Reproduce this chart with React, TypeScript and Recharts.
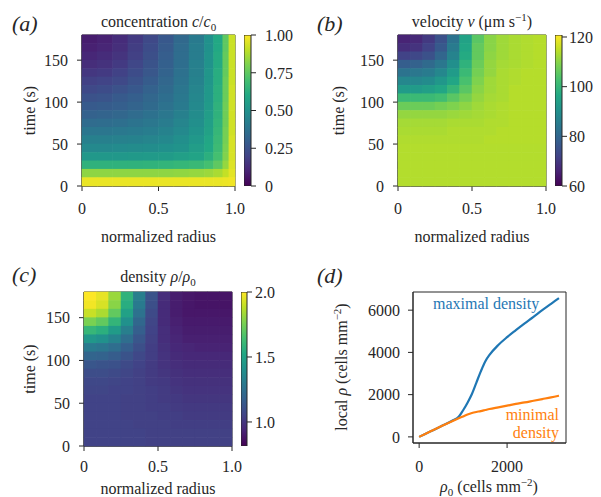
import React from "react";
import {
  ScatterChart,
  Scatter,
  BarChart,
  Bar,
  LineChart,
  Line,
  XAxis,
  YAxis,
  ReferenceArea,
} from "recharts";

const INK = "#262626";
const FONT = '"Liberation Serif", "DejaVu Serif", serif';

// heat map grids: radius bin centres / widths and time bin centres (top row first)
const radiusBins = [0.042, 0.125, 0.208, 0.292, 0.375, 0.458, 0.542, 0.625, 0.708, 0.792, 0.875, 0.958];
const radiusWidths = [0.0833, 0.0833, 0.0833, 0.0833, 0.0833, 0.0833, 0.0833, 0.0833, 0.0833, 0.0833, 0.0833, 0.0833];
const edgeRadiusBins = [0.05, 0.15, 0.25, 0.35, 0.45, 0.55, 0.65, 0.75, 0.83, 0.89, 0.94, 0.98];
const edgeRadiusWidths = [0.1, 0.1, 0.1, 0.1, 0.1, 0.1, 0.1, 0.1, 0.06, 0.06, 0.04, 0.04];
const timeBins = [175, 165, 155, 145, 135, 125, 115, 105, 95, 85, 75, 65, 55, 45, 35, 25, 15, 5];

const radiusTicks = [0, 0.5, 1];
const timeTicks = [0, 50, 100, 150];

// (a) concentration c/c0 (columns = edgeRadiusBins)
const concentrationRows = [
  [0.08, 0.095, 0.125, 0.17, 0.22, 0.275, 0.34, 0.41, 0.5, 0.6, 0.75, 0.92],
  [0.09, 0.105, 0.135, 0.18, 0.23, 0.285, 0.35, 0.42, 0.5, 0.6, 0.75, 0.92],
  [0.11, 0.125, 0.15, 0.19, 0.24, 0.295, 0.355, 0.42, 0.51, 0.61, 0.76, 0.92],
  [0.13, 0.145, 0.17, 0.21, 0.255, 0.305, 0.36, 0.43, 0.51, 0.61, 0.76, 0.92],
  [0.16, 0.17, 0.195, 0.23, 0.27, 0.315, 0.37, 0.43, 0.52, 0.62, 0.76, 0.92],
  [0.19, 0.2, 0.22, 0.25, 0.29, 0.33, 0.38, 0.44, 0.52, 0.62, 0.77, 0.92],
  [0.22, 0.23, 0.25, 0.275, 0.31, 0.345, 0.39, 0.45, 0.53, 0.63, 0.77, 0.93],
  [0.25, 0.26, 0.28, 0.3, 0.33, 0.36, 0.4, 0.46, 0.53, 0.63, 0.77, 0.93],
  [0.28, 0.29, 0.3, 0.32, 0.345, 0.375, 0.41, 0.47, 0.54, 0.64, 0.78, 0.93],
  [0.31, 0.32, 0.33, 0.35, 0.37, 0.395, 0.43, 0.48, 0.55, 0.64, 0.78, 0.93],
  [0.35, 0.355, 0.365, 0.38, 0.395, 0.415, 0.45, 0.49, 0.56, 0.65, 0.78, 0.93],
  [0.39, 0.39, 0.4, 0.41, 0.42, 0.44, 0.47, 0.51, 0.57, 0.66, 0.79, 0.93],
  [0.43, 0.43, 0.435, 0.44, 0.45, 0.465, 0.49, 0.53, 0.59, 0.67, 0.79, 0.94],
  [0.47, 0.47, 0.475, 0.48, 0.485, 0.495, 0.51, 0.55, 0.6, 0.68, 0.8, 0.94],
  [0.53, 0.53, 0.53, 0.535, 0.54, 0.545, 0.56, 0.58, 0.63, 0.7, 0.81, 0.94],
  [0.64, 0.64, 0.64, 0.64, 0.645, 0.65, 0.66, 0.67, 0.7, 0.75, 0.84, 0.95],
  [0.83, 0.83, 0.83, 0.83, 0.83, 0.83, 0.835, 0.84, 0.85, 0.87, 0.91, 0.96],
  [0.97, 0.97, 0.97, 0.97, 0.97, 0.97, 0.97, 0.97, 0.97, 0.97, 0.975, 0.98],
];

// (b) velocity v in um/s (columns = radiusBins)
const velocityRows = [
  [66, 67, 70, 75, 83, 95, 105, 110, 112, 113, 113.5, 114],
  [68, 69, 72, 77, 85, 96, 106, 110, 112, 113, 113.5, 114],
  [72, 73, 75, 80, 87, 97, 106, 110.5, 112, 113, 113.5, 114],
  [78, 79, 81, 84, 90, 99, 107, 111, 112.5, 113, 113.5, 114],
  [83, 84, 85, 88, 93, 101, 108, 111, 113, 113.5, 114, 114],
  [88, 88, 89, 92, 96, 103, 109, 112, 113, 113.5, 114, 114],
  [93, 93, 94, 96, 100, 105, 110, 112, 113, 114, 114, 114],
  [101, 101, 101, 102, 105, 108, 111, 112.5, 113, 114, 114, 114],
  [107, 107, 107, 108, 109, 110.5, 112, 113, 113.5, 114, 114, 114],
  [111, 111, 111, 111, 111.5, 112, 112.5, 113, 113.5, 114, 114, 114],
  [112.5, 112.5, 112.5, 112.5, 113, 113, 113, 113.5, 113.5, 114, 114, 114],
  [113, 113, 113, 113, 113.5, 113.5, 113.5, 113.5, 114, 114, 114, 114],
  [113.5, 113.5, 113.5, 113.5, 113.5, 113.5, 113.5, 114, 114, 114, 114, 114],
  [113.8, 113.8, 113.8, 113.8, 113.8, 113.8, 113.8, 113.8, 113.8, 113.8, 113.8, 113.8],
  [113.8, 113.8, 113.8, 113.8, 113.8, 113.8, 113.8, 113.8, 113.8, 113.8, 113.8, 113.8],
  [113.8, 113.8, 113.8, 113.8, 113.8, 113.8, 113.8, 113.8, 113.8, 113.8, 113.8, 113.8],
  [113.8, 113.8, 113.8, 113.8, 113.8, 113.8, 113.8, 113.8, 113.8, 113.8, 113.8, 113.8],
  [113.8, 113.8, 113.8, 113.8, 113.8, 113.8, 113.8, 113.8, 113.8, 113.8, 113.8, 113.8],
];

// (c) density rho/rho0 (columns = radiusBins)
const densityRows = [
  [2.0, 1.96, 1.82, 1.58, 1.32, 1.12, 0.97, 0.91, 0.89, 0.88, 0.88, 0.88],
  [1.98, 1.93, 1.79, 1.55, 1.3, 1.1, 0.96, 0.91, 0.89, 0.88, 0.88, 0.88],
  [1.9, 1.85, 1.71, 1.49, 1.26, 1.08, 0.96, 0.91, 0.89, 0.89, 0.89, 0.89],
  [1.76, 1.71, 1.59, 1.41, 1.21, 1.06, 0.96, 0.92, 0.9, 0.9, 0.9, 0.9],
  [1.6, 1.56, 1.46, 1.32, 1.17, 1.05, 0.97, 0.93, 0.91, 0.91, 0.91, 0.91],
  [1.44, 1.41, 1.34, 1.24, 1.13, 1.04, 0.97, 0.94, 0.92, 0.92, 0.92, 0.92],
  [1.3, 1.28, 1.24, 1.17, 1.1, 1.03, 0.98, 0.95, 0.94, 0.93, 0.93, 0.93],
  [1.2, 1.19, 1.16, 1.12, 1.07, 1.03, 0.99, 0.96, 0.95, 0.95, 0.95, 0.95],
  [1.13, 1.12, 1.11, 1.08, 1.05, 1.02, 0.99, 0.97, 0.96, 0.96, 0.96, 0.96],
  [1.09, 1.09, 1.08, 1.06, 1.04, 1.02, 1.0, 0.98, 0.97, 0.97, 0.97, 0.97],
  [1.07, 1.07, 1.06, 1.05, 1.04, 1.02, 1.01, 0.99, 0.98, 0.98, 0.98, 0.98],
  [1.06, 1.06, 1.05, 1.05, 1.04, 1.03, 1.02, 1.0, 0.99, 0.99, 0.99, 0.99],
  [1.05, 1.05, 1.05, 1.04, 1.04, 1.03, 1.02, 1.01, 1.0, 1.0, 1.0, 1.0],
  [1.05, 1.05, 1.05, 1.04, 1.04, 1.03, 1.03, 1.02, 1.01, 1.01, 1.01, 1.01],
  [1.05, 1.05, 1.05, 1.04, 1.04, 1.04, 1.03, 1.03, 1.02, 1.02, 1.02, 1.02],
  [1.05, 1.05, 1.05, 1.05, 1.04, 1.04, 1.04, 1.03, 1.03, 1.03, 1.03, 1.03],
  [1.05, 1.05, 1.05, 1.05, 1.05, 1.04, 1.04, 1.04, 1.04, 1.04, 1.04, 1.04],
  [1.05, 1.05, 1.05, 1.05, 1.05, 1.04, 1.04, 1.04, 1.04, 1.04, 1.04, 1.04],
];

// (d) local density vs initial density
const rho0 = [0, 250, 500, 750, 900, 1000, 1100, 1200, 1300, 1400, 1500, 1600, 1800, 2000, 2200, 2400, 2600, 2800, 3000, 3180];
const maximalDensity = [0, 250, 500, 760, 950, 1260, 1620, 2030, 2560, 3090, 3560, 3880, 4350, 4720, 5050, 5370, 5680, 6000, 6300, 6570];
const minimalDensity = [0, 250, 500, 740, 880, 970, 1060, 1130, 1180, 1220, 1270, 1320, 1400, 1480, 1560, 1630, 1710, 1790, 1870, 1950];

const VIRIDIS = [
  "#440154", "#482475", "#414487", "#355f8d", "#2a788e", "#21918c",
  "#22a884", "#44bf70", "#7ad151", "#bddf26", "#fde725",
];

function viridis(f: number) {
  const x = Math.min(1, Math.max(0, f)) * (VIRIDIS.length - 1);
  const i = Math.min(VIRIDIS.length - 2, Math.floor(x));
  const k = x - i;
  const a = VIRIDIS[i];
  const b = VIRIDIS[i + 1];
  const ch = (s: string, p: number) => parseInt(s.slice(p, p + 2), 16);
  const mix = (p: number) => Math.round(ch(a, p) + (ch(b, p) - ch(a, p)) * k);
  return `rgb(${mix(1)},${mix(3)},${mix(5)})`;
}

function buildCells(rows: number[][], centers: number[], widths: number[], vmin: number, vmax: number) {
  return rows.flatMap((row, i) =>
    row.map((v, j) => ({
      r: centers[j],
      w: widths[j],
      t: timeBins[i],
      v,
      color: viridis((v - vmin) / (vmax - vmin)),
    }))
  );
}

const lineStyle = { stroke: INK };
const textProps = { fill: INK, fontSize: 16, fontFamily: FONT };

// tick renderers with explicit serif font
const bottomTick = (fmt: (v: number) => string) => (p: any) => (
  <text x={p.x} y={p.y} dy="0.71em" textAnchor="middle" {...textProps}>
    {fmt(p.payload.value)}
  </text>
);
const sideTick = (fmt: (v: number) => string, anchor: "start" | "end") => (p: any) => (
  <text x={p.x} y={p.y} dy="0.36em" textAnchor={anchor} {...textProps}>
    {fmt(p.payload.value)}
  </text>
);

type Margin = { top: number; right: number; bottom: number; left: number };

function Heatmap({
  width,
  height,
  margin,
  xAxisHeight,
  rows,
  centers,
  widths,
  vmin,
  vmax,
  xTickMargin,
  xLabelGap,
  yLabelX,
  children,
}: {
  width: number;
  height: number;
  margin: Margin;
  xAxisHeight: number;
  rows: number[][];
  centers: number[];
  widths: number[];
  vmin: number;
  vmax: number;
  xTickMargin: number;
  xLabelGap: number;
  yLabelX: number;
  children?: React.ReactNode;
}) {
  const plotW = width - margin.left - margin.right - 60;
  const plotH = height - margin.top - margin.bottom - xAxisHeight;
  const chh = plotH / timeBins.length + 0.6;
  const cells = buildCells(rows, centers, widths, vmin, vmax);
  const cx = margin.left + 60 + plotW / 2;
  const cy = margin.top + plotH / 2;

  return (
    <ScatterChart width={width} height={height} margin={margin}>
      <XAxis
        type="number"
        dataKey="r"
        domain={[0, 1]}
        ticks={radiusTicks}
        height={xAxisHeight}
        tickSize={5}
        tickMargin={xTickMargin}
        axisLine={lineStyle}
        tickLine={lineStyle}
        tick={bottomTick((v) => (v === 0 ? "0" : v.toFixed(1)))}
      />
      <YAxis
        type="number"
        dataKey="t"
        domain={[0, 180]}
        ticks={timeTicks}
        width={60}
        tickSize={5}
        tickMargin={9}
        axisLine={lineStyle}
        tickLine={lineStyle}
        tick={sideTick((v) => String(v), "end")}
      />
      <Scatter
        data={cells}
        isAnimationActive={false}
        shape={(p: any) => {
          const cw = p.payload.w * plotW + 0.6;
          return <rect x={p.cx - cw / 2} y={p.cy - chh / 2} width={cw} height={chh} fill={p.payload.color} />;
        }}
      />
      <ReferenceArea x1={0} x2={1} y1={0} y2={180} fill="none" stroke={INK} strokeWidth={1} ifOverflow="visible" />
      <text x={cx} y={margin.top + plotH + xLabelGap} textAnchor="middle" {...textProps}>
        normalized radius
      </text>
      <text x={0} y={0} textAnchor="middle" {...textProps} transform={`translate(${yLabelX} ${cy}) rotate(-90)`}>
        time (s)
      </text>
      {children}
    </ScatterChart>
  );
}

function Colorbar({
  id,
  width,
  height,
  top,
  bottom,
  axisWidth,
  domain,
  ticks,
  tickMargin,
  format,
}: {
  id: string;
  width: number;
  height: number;
  top: number;
  bottom: number;
  axisWidth: number;
  domain: [number, number];
  ticks: number[];
  tickMargin: number;
  format: (v: number) => string;
}) {
  return (
    <BarChart
      width={width}
      height={height}
      margin={{ top, right: 0, bottom, left: 0 }}
      data={[{ name: "scale", span: domain }]}
      barCategoryGap={0}
      barGap={0}
    >
      <defs>
        <linearGradient id={id} x1="0" y1="1" x2="0" y2="0">
          {VIRIDIS.map((c, i) => (
            <stop key={c} offset={`${(i / (VIRIDIS.length - 1)) * 100}%`} stopColor={c} />
          ))}
        </linearGradient>
      </defs>
      <XAxis dataKey="name" hide />
      <YAxis
        orientation="right"
        type="number"
        domain={domain}
        ticks={ticks}
        width={axisWidth}
        tickSize={5}
        tickMargin={tickMargin}
        axisLine={false}
        tickLine={lineStyle}
        tick={sideTick(format, "start")}
        allowDataOverflow
      />
      <Bar dataKey="span" fill={`url(#${id})`} stroke={INK} strokeWidth={1} isAnimationActive={false} />
    </BarChart>
  );
}

const panelLabel = { fontSize: 22, fill: INK, fontStyle: "italic" as const, fontFamily: FONT };

function DensityLines() {
  const data = rho0.map((x, i) => ({
    rho0: x,
    maximal: maximalDensity[i],
    minimal: minimalDensity[i],
  }));
  return (
    <LineChart width={301} height={247} margin={{ top: 42, right: 35, bottom: 4, left: 38 }} data={data}>
      <XAxis
        type="number"
        dataKey="rho0"
        domain={[-140, 3340]}
        ticks={[0, 2000]}
        height={50}
        tickSize={5}
        tickMargin={13}
        axisLine={lineStyle}
        tickLine={lineStyle}
        tick={bottomTick((v) => String(v))}
        allowDataOverflow
      />
      <YAxis
        type="number"
        domain={[-290, 6860]}
        ticks={[0, 2000, 4000, 6000]}
        width={75}
        tickSize={5}
        tickMargin={8}
        axisLine={lineStyle}
        tickLine={lineStyle}
        tick={sideTick((v) => String(v), "end")}
        allowDataOverflow
      />
      <ReferenceArea x1={-140} x2={3340} y1={-290} y2={6860} fill="none" stroke={INK} strokeWidth={1} ifOverflow="visible" />
      <Line type="monotone" dataKey="maximal" stroke="#1f77b4" strokeWidth={2.2} dot={false} isAnimationActive={false} />
      <Line type="monotone" dataKey="minimal" stroke="#ff7f0e" strokeWidth={2.2} dot={false} isAnimationActive={false} />
      <text x={17} y={33} {...panelLabel}>
        (d)
      </text>
      <text x={133} y={59} {...textProps} fill="#1f77b4">
        maximal density
      </text>
      <text x={259} y={170} {...textProps} fill="#ff7f0e" textAnchor="end">
        minimal
      </text>
      <text x={259} y={188} {...textProps} fill="#ff7f0e" textAnchor="end">
        density
      </text>
      <text x={189} y={242} textAnchor="middle" {...textProps}>
        <tspan fontStyle="italic">ρ</tspan>
        <tspan dy={4} fontSize={11}>0</tspan>
        <tspan dy={-4}> (cells mm</tspan>
        <tspan dy={-6} fontSize={11}>−2</tspan>
        <tspan dy={6}>)</tspan>
      </text>
      <text x={0} y={0} textAnchor="middle" {...textProps} transform="translate(47 117) rotate(-90)">
        local <tspan fontStyle="italic">ρ</tspan> (cells mm
        <tspan dy={-6} fontSize={11}>−2</tspan>
        <tspan dy={6}>)</tspan>
      </text>
    </LineChart>
  );
}

export default function App() {
  return (
    <div
      style={{
        position: "absolute",
        left: 0,
        top: 0,
        width: 601,
        height: 497,
        background: "#fff",
        fontFamily: FONT,
      }}
    >
      {/* (a) concentration */}
      <div style={{ position: "absolute", left: 0, top: 0 }}>
        <Heatmap
          width={300}
          height={250}
          margin={{ top: 35, right: 65, bottom: 4, left: 22 }}
          xAxisHeight={60}
          rows={concentrationRows}
          centers={edgeRadiusBins}
          widths={edgeRadiusWidths}
          vmin={0}
          vmax={1}
          xTickMargin={12}
          xLabelGap={56}
          yLabelX={35}
        >
          <text x={12} y={31} {...panelLabel}>
            (a)
          </text>
          <text x={158.5} y={27} textAnchor="middle" {...textProps}>
            concentration <tspan fontStyle="italic">c</tspan>/<tspan fontStyle="italic">c</tspan>
            <tspan dy={4} fontSize={11}>0</tspan>
          </text>
        </Heatmap>
      </div>
      <div style={{ position: "absolute", left: 244, top: 0 }}>
        <Colorbar
          id="cbarA"
          width={56}
          height={250}
          top={35}
          bottom={64}
          axisWidth={49}
          domain={[0, 1]}
          ticks={[0, 0.25, 0.5, 0.75, 1]}
          tickMargin={9}
          format={(v) => (v === 0 ? "0" : v.toFixed(2))}
        />
      </div>

      {/* (b) velocity */}
      <div style={{ position: "absolute", left: 300, top: 0 }}>
        <Heatmap
          width={301}
          height={250}
          margin={{ top: 35, right: 55, bottom: 4, left: 38 }}
          xAxisHeight={60}
          rows={velocityRows}
          centers={radiusBins}
          widths={radiusWidths}
          vmin={60}
          vmax={120.8}
          xTickMargin={12}
          xLabelGap={56}
          yLabelX={44}
        >
          <text x={17} y={31} {...panelLabel}>
            (b)
          </text>
          <text x={172} y={27} textAnchor="middle" {...textProps}>
            velocity <tspan fontStyle="italic">v</tspan> (μm s
            <tspan dy={-6} fontSize={11}>−1</tspan>
            <tspan dy={6}>)</tspan>
          </text>
        </Heatmap>
      </div>
      <div style={{ position: "absolute", left: 555, top: 0 }}>
        <Colorbar
          id="cbarB"
          width={46}
          height={250}
          top={35}
          bottom={64}
          axisWidth={39}
          domain={[60, 120.8]}
          ticks={[60, 80, 100, 120]}
          tickMargin={2}
          format={(v) => String(v)}
        />
      </div>

      {/* (c) density */}
      <div style={{ position: "absolute", left: 0, top: 250 }}>
        <Heatmap
          width={300}
          height={247}
          margin={{ top: 42, right: 68, bottom: 1, left: 24 }}
          xAxisHeight={50}
          rows={densityRows}
          centers={radiusBins}
          widths={radiusWidths}
          vmin={0.815}
          vmax={2.0}
          xTickMargin={10}
          xLabelGap={48}
          yLabelX={35}
        >
          <text x={12} y={32} {...panelLabel}>
            (c)
          </text>
          <text x={158} y={32} textAnchor="middle" {...textProps}>
            density <tspan fontStyle="italic">ρ</tspan>/<tspan fontStyle="italic">ρ</tspan>
            <tspan dy={4} fontSize={11}>0</tspan>
          </text>
        </Heatmap>
      </div>
      <div style={{ position: "absolute", left: 241, top: 250 }}>
        <Colorbar
          id="cbarC"
          width={59}
          height={247}
          top={42}
          bottom={51}
          axisWidth={53}
          domain={[0.815, 2.0]}
          ticks={[1, 1.5, 2]}
          tickMargin={3}
          format={(v) => v.toFixed(1)}
        />
      </div>

      {/* (d) local density */}
      <div style={{ position: "absolute", left: 300, top: 250 }}>
        <DensityLines />
      </div>
    </div>
  );
}
